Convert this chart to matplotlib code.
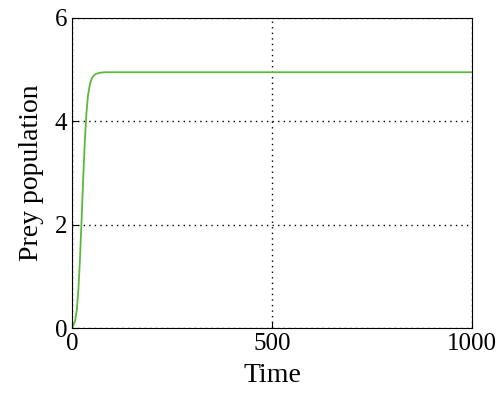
import matplotlib
matplotlib.use("Agg")
import matplotlib.pyplot as plt

t = [0, 4, 8, 12, 16, 20, 24, 28, 32, 36, 40, 45, 50, 55, 60, 70, 80, 100, 200, 500, 1000]
prey = [0.02, 0.06, 0.15, 0.35, 0.75, 1.35, 2.1, 2.9, 3.6, 4.15, 4.5, 4.73, 4.84, 4.89, 4.92, 4.94, 4.95, 4.95, 4.95, 4.95, 4.95]

plt.rcParams['font.family'] = ['Liberation Serif', 'DejaVu Serif']
fig = plt.figure(figsize=(5, 4.09), dpi=100)
ax = fig.add_axes([0.144, 0.198, 0.800, 0.758])
ax.plot(t, prey, color='#5cb83c', lw=1.3)
ax.set_xlim(0, 1000)
ax.set_ylim(0, 6)
ax.set_xticks([0, 500, 1000])
ax.set_yticks([0, 2, 4, 6])
ax.grid(True, color='black', linestyle=(0, (1, 3)), lw=1)
ax.tick_params(direction='in', labelsize=18, length=4)
ax.set_xlabel('Time', fontsize=20, labelpad=6)
ax.set_ylabel('Prey population', fontsize=20, labelpad=8)
fig.savefig('out.png')
